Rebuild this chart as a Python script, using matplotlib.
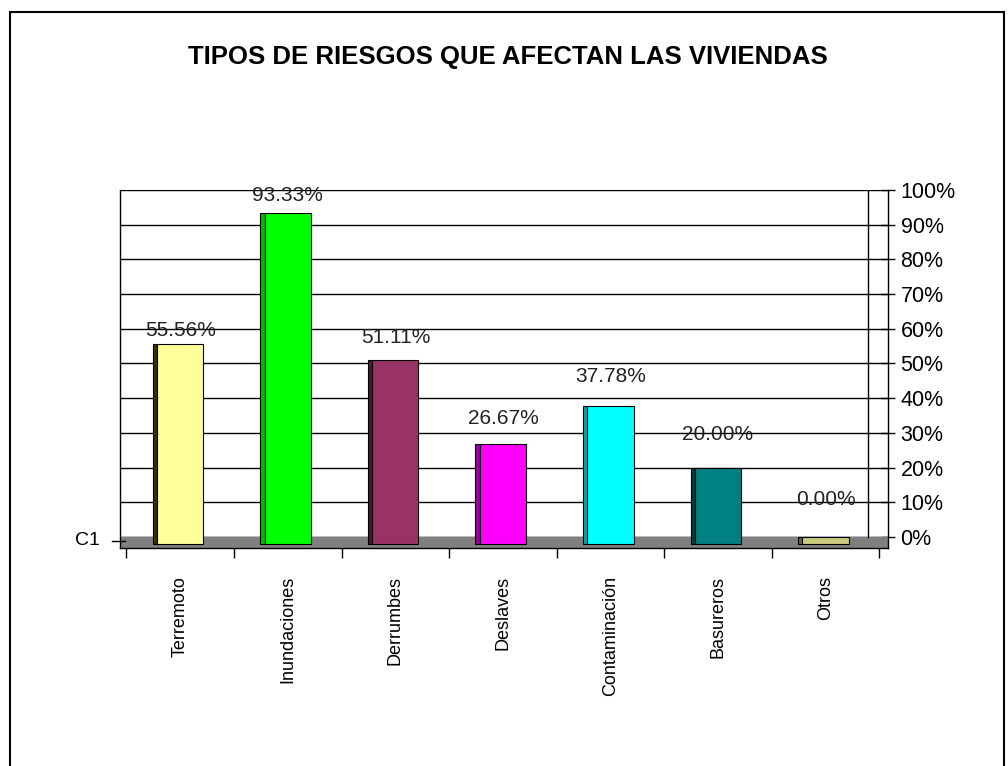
import matplotlib.pyplot as plt
import matplotlib.patches as patches
import numpy as np
from matplotlib.ticker import FuncFormatter

# datos del grafico
categorias = ["Terremoto", "Inundaciones", "Derrumbes", "Deslaves",
              "Contaminación", "Basureros", "Otros"]
valores = [55.56, 93.33, 51.11, 26.67, 37.78, 20.00, 0.00]
colores = ["#FFFF99", "#00FF00", "#993366", "#FF00FF", "#00FFFF", "#008080", "#CCCC80"]
lados = ["#333300", "#00BB00", "#4D1A33", "#990099", "#00AAAA", "#004040", "#666640"]
titulo = "TIPOS DE RIESGOS QUE AFECTAN LAS VIVIENDAS"

fuente = ["Liberation Sans", "DejaVu Sans"]
plt.rcParams["font.family"] = fuente

fig = plt.figure(figsize=(10.08, 7.66), dpi=100)
fig.patch.set_facecolor("white")

# marco exterior
marco = patches.Rectangle((10/1008, -0.05), 994/1008, 1.05 - 12/766,
                          transform=fig.transFigure, fill=False,
                          edgecolor="black", linewidth=1.5)
fig.add_artist(marco)

fig.text(508/1008, 1 - 57/766, titulo, ha="center", va="center",
         fontsize=18.5, fontweight="bold")

ax = fig.add_axes([120/1008, 1 - 548/766, 768/1008, 358/766])
piso = -3.2
ax.set_ylim(piso, 100)
ax.set_xlim(-0.56, 6.58)

x = np.arange(len(categorias))

# piso gris
ax.fill_between([-0.56, 6.58], piso, 0, color="#808080", zorder=1)

# pared del fondo
ax.set_yticks(np.arange(0, 101, 10))
ax.yaxis.grid(True, color="black", linewidth=1)
ax.set_axisbelow(True)
ax.plot([0.974, 0.974], [-piso/(100-piso), 1], transform=ax.transAxes,
        color="black", linewidth=1, zorder=2)

# barras con cara lateral
w = 0.43
d = 0.04
vals = np.array(valores)
ax.bar(x - w/2 - d/2, vals + 2, width=d, bottom=-2, color=lados,
       edgecolor="black", linewidth=0.8, zorder=3)
ax.bar(x, vals + 2, width=w, bottom=-2, color=colores,
       edgecolor="black", linewidth=0.8, zorder=4)

for i, v in enumerate(valores):
    ax.annotate(f"{v:.2f}%", (x[i], v), xytext=(0, 10 + 2.8*i),
                textcoords="offset points", ha="center", va="center",
                fontsize=15, color="#222222", zorder=5)

# ejes
ax.yaxis.tick_right()
ax.yaxis.set_major_formatter(FuncFormatter(lambda v, p: f"{v:.0f}%"))
ax.tick_params(axis="y", direction="inout", length=10, width=1,
               labelsize=15.5, pad=4)
ax.spines["top"].set_visible(False)
ax.spines["left"].set_linewidth(1)
ax.spines["right"].set_linewidth(1)
ax.spines["bottom"].set_linewidth(1)

ax.set_xticks(x)
ax.set_xticklabels(categorias, rotation=90, fontsize=13)
ax.tick_params(axis="x", length=0, pad=20)
ax.set_xticks(np.arange(-0.5, 6.6, 1), minor=True)
ax.tick_params(axis="x", which="minor", direction="out", length=7, width=1)

# marca de la serie C1 a la izquierda
ax.plot([-0.01, 0.006], [0.02, 0.02], transform=ax.transAxes,
        color="black", linewidth=1, clip_on=False)
ax.text(-0.026, 0.02, "C1", transform=ax.transAxes, ha="right", va="center",
        fontsize=14)

plt.savefig("out.png", dpi=100)
plt.close()
